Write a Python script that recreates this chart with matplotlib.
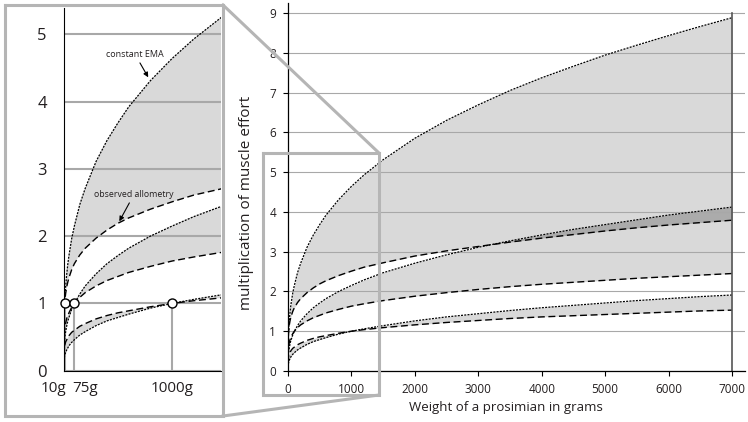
"""Muscle effort vs. prosimian body weight, with zoomed inset of the small-weight range."""

import matplotlib
matplotlib.use('Agg')
import matplotlib.pyplot as plt
from matplotlib.lines import Line2D

plt.rcParams['font.family'] = ['Open Sans', 'DejaVu Sans']

# body weight in grams
weight = [1, 2, 3, 5, 7, 10, 15, 20, 30, 40, 50, 75, 100, 150, 200, 300, 400, 500,
          600, 800, 1000, 1200, 1500, 2000, 2500, 3000, 3500, 4000, 4500, 5000,
          5500, 6000, 6500, 7000]

# constant EMA (dotted) and observed allometry (dashed), one pair per reference weight
ema_10 = [0.46, 0.59, 0.67, 0.79, 0.89, 1.00, 1.15, 1.26, 1.44, 1.59, 1.71, 1.96, 2.15,
          2.47, 2.71, 3.11, 3.42, 3.68, 3.92, 4.31, 4.64, 4.93, 5.31, 5.85, 6.30, 6.69,
          7.05, 7.37, 7.66, 7.94, 8.19, 8.43, 8.66, 8.88]
allo_10 = [0.63, 0.73, 0.79, 0.87, 0.93, 1.00, 1.08, 1.15, 1.25, 1.32, 1.38, 1.50, 1.59,
           1.72, 1.82, 1.97, 2.09, 2.19, 2.27, 2.40, 2.51, 2.61, 2.72, 2.89, 3.02, 3.13,
           3.24, 3.34, 3.43, 3.52, 3.60, 3.67, 3.73, 3.79]
ema_100 = [0.22, 0.27, 0.31, 0.37, 0.41, 0.46, 0.53, 0.58, 0.67, 0.74, 0.79, 0.91, 1.00,
           1.14, 1.26, 1.44, 1.59, 1.71, 1.82, 2.00, 2.15, 2.29, 2.47, 2.71, 2.92, 3.11,
           3.27, 3.42, 3.56, 3.68, 3.80, 3.92, 4.02, 4.12]
allo_100 = [0.38, 0.44, 0.48, 0.53, 0.57, 0.62, 0.67, 0.71, 0.78, 0.82, 0.86, 0.94, 1.00,
            1.09, 1.16, 1.26, 1.34, 1.40, 1.46, 1.55, 1.63, 1.69, 1.77, 1.88, 1.97, 2.05,
            2.12, 2.18, 2.23, 2.28, 2.33, 2.37, 2.41, 2.45]
ema_1000 = [0.10, 0.13, 0.14, 0.17, 0.19, 0.22, 0.25, 0.27, 0.31, 0.34, 0.37, 0.42, 0.46,
            0.53, 0.58, 0.67, 0.74, 0.79, 0.84, 0.93, 1.00, 1.06, 1.14, 1.26, 1.36, 1.44,
            1.52, 1.59, 1.65, 1.71, 1.77, 1.82, 1.87, 1.91]
allo_1000 = [0.22, 0.26, 0.28, 0.31, 0.34, 0.37, 0.40, 0.43, 0.46, 0.49, 0.52, 0.57, 0.60,
             0.66, 0.70, 0.77, 0.82, 0.86, 0.89, 0.95, 1.00, 1.04, 1.09, 1.16, 1.22, 1.27,
             1.32, 1.36, 1.39, 1.42, 1.45, 1.48, 1.51, 1.53]

ref_weight = [10, 100, 1000]
ref_value = [1, 1, 1]
ref_labels = ['10g', '75g', '1000g']
main_xticks = [0, 1000, 2000, 3000, 4000, 5000, 6000, 7000]
main_yticks = [0, 1, 2, 3, 4, 5, 6, 7, 8, 9]
inset_yticks = [0, 1, 2, 3, 4, 5]

W, H = 748, 422
BAND = '#d9d9d9'
OVERLAP = '#ababab'
GRID = '#a8a8a8'
FRAME = '#b5b5b5'
TXT = '#231f20'
DOT = (0, (1.6, 1.0))
DASH = (0, (5, 2.6))

fig = plt.figure(figsize=(W / 100, H / 100), dpi=100)


def px_box(x0, y0, x1, y1):
    return [x0 / W, 1 - y1 / H, (x1 - x0) / W, (y1 - y0) / H]


def draw_curves(ax):
    pairs = [(ema_10, allo_10), (ema_100, allo_100), (ema_1000, allo_1000)]
    for ema, allo in pairs:
        ax.fill_between(weight, ema, allo, color=BAND, lw=0)
    overlap = [e > a for e, a in zip(ema_100, allo_10)]
    ax.fill_between(weight, ema_100, allo_10, where=overlap, interpolate=True,
                    color=OVERLAP, lw=0)
    for ema, allo in pairs:
        ax.plot(weight, ema, color='black', lw=0.9, ls=DOT)
        ax.plot(weight, allo, color='black', lw=1.0, ls=DASH)


# ---- main chart ----
ax = fig.add_axes(px_box(288, 3, 745, 371))
draw_curves(ax)
ax.plot([7000, 7000], [0, 9], color='#555555', lw=1.2)
ax.set_xlim(0, 7205)
ax.set_ylim(0, 9.25)
ax.set_xticks(main_xticks)
ax.set_yticks(main_yticks)
ax.yaxis.grid(True, color=GRID, lw=0.8)
ax.set_axisbelow('line')
for s in ['top', 'right']:
    ax.spines[s].set_visible(False)
for s in ['left', 'bottom']:
    ax.spines[s].set_linewidth(0.9)
ax.tick_params(direction='out', length=3.5, width=0.8, labelsize=8.5,
               labelcolor=TXT, pad=5)
ax.set_xlabel('Weight of a prosimian in grams', fontsize=9.5, color=TXT)
ax.xaxis.set_label_coords((506 - 288) / 457, -(408 - 371) / 368)
ax.xaxis.label.set_va('center')
ax.set_ylabel('multiplication of muscle effort', fontsize=11, color=TXT)
ax.yaxis.set_label_coords((247 - 288) / 457, (371 - 203) / 368)
ax.yaxis.label.set_va('center')

# ---- zoomed inset ----
ins = fig.add_axes(px_box(63.5, 8, 221, 370.7))
draw_curves(ins)
ins.vlines(ref_weight, 0, ref_value, color=GRID, lw=1.5, zorder=1.6)
ins.plot(ref_weight, ref_value, 'o', mfc='white', mec='black', ms=6.5, mew=1,
         zorder=5, clip_on=False)
ins.set_xlim(0, 1450)
ins.set_ylim(0, 5.39)
ins.set_xticks([])
ins.set_yticks(inset_yticks)
ins.yaxis.grid(True, color=GRID, lw=1.5)
ins.set_axisbelow('line')
for s in ['top', 'right']:
    ins.spines[s].set_visible(False)
ins.tick_params(axis='y', length=0, pad=12, labelsize=12, labelcolor=TXT)
for w, lab, dx in zip(ref_weight, ref_labels, [-11, 11, 0]):
    ins.annotate(lab, xy=(w, 0), xytext=(dx, -18), textcoords='offset pixels',
                 ha='center', va='center', fontsize=11, color=TXT,
                 annotation_clip=False)

arrow = dict(arrowstyle='-|>', color='black', lw=0.8, mutation_scale=7,
             shrinkA=1, shrinkB=0)
ins.annotate('constant EMA', xy=(780, 4.36), xytext=(659, 4.70), ha='center',
             va='center', fontsize=6.5, color=TXT, arrowprops=arrow)
ins.annotate('observed allometry', xy=(514, 2.22), xytext=(649, 2.62),
             ha='center', va='center', fontsize=6.3, color=TXT, arrowprops=arrow)


# ---- inset frame, zoom box and connectors ----
def px_line(xs, ys):
    fig.add_artist(Line2D([x / W for x in xs], [1 - y / H for y in ys],
                          transform=fig.transFigure, color=FRAME, lw=2.2,
                          solid_joinstyle='miter', zorder=10))


px_line([5, 223, 223, 5, 5], [5, 5, 416, 416, 5])
px_line([263, 379, 379, 263, 263], [153, 153, 395, 395, 153])
px_line([223, 379], [5, 153])
px_line([223, 379], [416, 395])

fig.savefig('out.png', dpi=100)
